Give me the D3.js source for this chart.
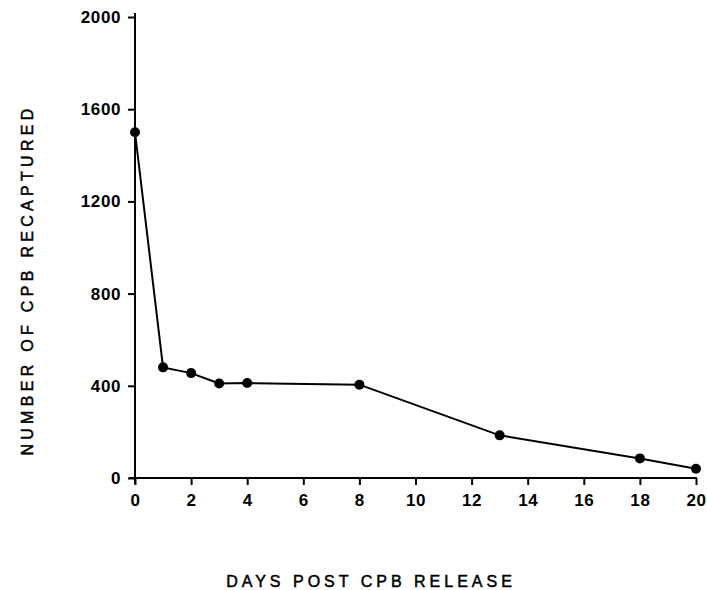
<!DOCTYPE html>
<html>
<head>
<meta charset="utf-8">
<script src="https://cdn.jsdelivr.net/npm/d3@7"></script>
<style>
  body { margin: 0; background: #fff; }
  text { font-family: "Liberation Sans", Arial, sans-serif; fill: #000; }
</style>
</head>
<body>
<div id="chart"></div>
<script>
// data
var days = [0, 1, 2, 3, 4, 8, 13, 18, 20];
var recaptured = [1500, 480, 455, 410, 412, 405, 185, 85, 40];
var xTicks = [0, 2, 4, 6, 8, 10, 12, 14, 16, 18, 20];
var yTicks = [0, 400, 800, 1200, 1600, 2000];

var svg = d3.select("#chart").append("svg")
  .attr("width", 707).attr("height", 590);

var x = d3.scaleLinear().domain([0, 20]).range([135, 696]);
var y = d3.scaleLinear().domain([0, 2000]).range([478, 17]);

// y axis
var yAxis = svg.append("g").attr("transform", "translate(" + x(0) + ",0)")
  .call(d3.axisLeft(y).tickValues(yTicks).tickSize(7).tickPadding(7).tickFormat(d3.format("d")));
yAxis.select(".domain").attr("d", "M0," + (y(0) + 6) + "V" + (y(2000) - 4));

// x axis
var xAxis = svg.append("g").attr("transform", "translate(0," + y(0) + ")")
  .call(d3.axisBottom(x).tickValues(xTicks).tickSize(7).tickPadding(9));
xAxis.select(".domain").attr("d", "M" + (x(0) - 6) + ",0H" + (x(20) + 1));

svg.selectAll(".domain, .tick line").attr("stroke", "#000").attr("stroke-width", 2);
svg.selectAll(".tick text")
  .style("font-family", "'Liberation Sans', Arial, sans-serif")
  .style("font-size", "17px").style("font-weight", "bold")
  .style("letter-spacing", "0.6px").attr("fill", "#000");

// line + points
var line = d3.line().x(function (d, i) { return x(days[i]); })
  .y(function (d) { return y(d); });
svg.append("path").datum(recaptured)
  .attr("d", line).attr("fill", "none")
  .attr("stroke", "#000").attr("stroke-width", 2);

svg.selectAll("circle.pt").data(recaptured).enter().append("circle")
  .attr("class", "pt")
  .attr("cx", function (d, i) { return x(days[i]); })
  .attr("cy", function (d) { return y(d); })
  .attr("r", 5).attr("fill", "#000");

// titles
svg.append("text")
  .attr("transform", "translate(33,280) rotate(-90)")
  .attr("text-anchor", "middle")
  .style("font-size", "16px").style("letter-spacing", "4.3px")
  .attr("stroke", "#000").attr("stroke-width", 0.5)
  .text("NUMBER OF CPB RECAPTURED");

svg.append("text")
  .attr("x", 371).attr("y", 587)
  .attr("text-anchor", "middle")
  .style("font-size", "16px").style("letter-spacing", "4px")
  .attr("stroke", "#000").attr("stroke-width", 0.5)
  .text("DAYS POST CPB RELEASE");
</script>
</body>
</html>
